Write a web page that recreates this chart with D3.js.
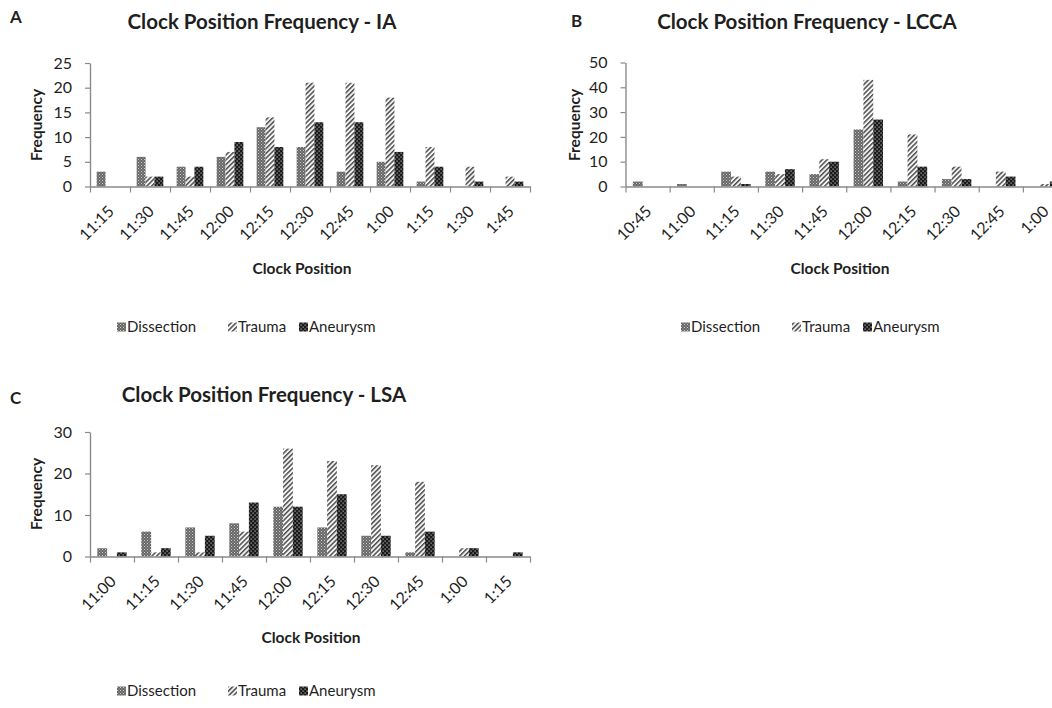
<!DOCTYPE html>
<html><head><meta charset="utf-8">
<script src="https://cdn.jsdelivr.net/npm/d3@7"></script>
<style>
body{margin:0;background:#fff}
svg{display:block}
text{font-family:Lato,"Noto Sans",sans-serif;fill:#1f1f1f}
</style></head>
<body><svg id="chart" width="1052" height="708"></svg>
<script>
// ---------- data ----------
const seriesNames = ["Dissection", "Trauma", "Aneurysm"];

const catsIA = ["11:15","11:30","11:45","12:00","12:15","12:30","12:45","1:00","1:15","1:30","1:45"];
const dissectionIA = [3, 6, 4, 6, 12, 8, 3, 5, 1, 0, 0];
const traumaIA     = [0, 2, 2, 7, 14, 21, 21, 18, 8, 4, 2];
const aneurysmIA   = [0, 2, 4, 9, 8, 13, 13, 7, 4, 1, 1];
const ticksIA = [0, 5, 10, 15, 20, 25];

const catsLCCA = ["10:45","11:00","11:15","11:30","11:45","12:00","12:15","12:30","12:45","1:00"];
const dissectionLCCA = [2, 1, 6, 6, 5, 23, 2, 3, 0, 0];
const traumaLCCA     = [0, 0, 4, 5, 11, 43, 21, 8, 6, 1];
const aneurysmLCCA   = [0, 0, 1, 7, 10, 27, 8, 3, 4, 2];
const ticksLCCA = [0, 10, 20, 30, 40, 50];

const catsLSA = ["11:00","11:15","11:30","11:45","12:00","12:15","12:30","12:45","1:00","1:15"];
const dissectionLSA = [2, 6, 7, 8, 12, 7, 5, 1, 0, 0];
const traumaLSA     = [0, 1, 1, 6, 26, 23, 22, 18, 2, 0];
const aneurysmLSA   = [1, 2, 5, 13, 12, 15, 5, 6, 2, 1];
const ticksLSA = [0, 10, 20, 30];

// ---------- layout ----------
const panels = [
  {letter:"A", title:"Clock Position Frequency - IA", cats:catsIA,
   series:[dissectionIA, traumaIA, aneurysmIA], ticks:ticksIA,
   x0:90, x1:530, yBase:186.5, yTop:63,
   letterX:10, letterY:23, titleX:262, titleY:29, freqX:42, freqY:125,
   cpX:302, cpY:274, legX:117, legY:327},
  {letter:"B", title:"Clock Position Frequency - LCCA", cats:catsLCCA,
   series:[dissectionLCCA, traumaLCCA, aneurysmLCCA], ticks:ticksLCCA,
   x0:625.5, x1:1067, yBase:186.5, yTop:62.5,
   letterX:571, letterY:27, titleX:807, titleY:29, freqX:580, freqY:125,
   cpX:840, cpY:274, legX:681, legY:327},
  {letter:"C", title:"Clock Position Frequency - LSA", cats:catsLSA,
   series:[dissectionLSA, traumaLSA, aneurysmLSA], ticks:ticksLSA,
   x0:90, x1:530, yBase:556.5, yTop:432,
   letterX:10, letterY:404, titleX:264, titleY:402, freqX:42, freqY:494,
   cpX:311, cpY:643, legX:117, legY:691}
];
const legendOffsets = [0, 111, 182];
const axisColor = "#8a8a8a";

const svg = d3.select("#chart");
const defs = svg.append("defs");

// Dissection: grey fine checker
const pD = defs.append("pattern").attr("id","patD").attr("patternUnits","userSpaceOnUse")
  .attr("width",3).attr("height",3);
pD.append("rect").attr("width",3).attr("height",3).attr("fill","#666666");
pD.append("rect").attr("x",0).attr("y",0).attr("width",1).attr("height",1).attr("fill","#d0d0d0");
pD.append("rect").attr("x",1.5).attr("y",1.5).attr("width",1).attr("height",1).attr("fill","#b4b4b4");

// Trauma: wide upward diagonal
const pT = defs.append("pattern").attr("id","patT").attr("patternUnits","userSpaceOnUse")
  .attr("width",3.4).attr("height",6).attr("patternTransform","rotate(45)");
pT.append("rect").attr("width",3.4).attr("height",6).attr("fill","#f4f4f4");
pT.append("rect").attr("width",1.5).attr("height",6).attr("fill","#4d4d4d");

// Aneurysm: dark with light dots
const pA = defs.append("pattern").attr("id","patA").attr("patternUnits","userSpaceOnUse")
  .attr("width",4).attr("height",4);
pA.append("rect").attr("width",4).attr("height",4).attr("fill","#1a1a1a");
pA.append("rect").attr("x",0.5).attr("y",0.5).attr("width",1.2).attr("height",1.2).attr("fill","#b8b8b8");
pA.append("rect").attr("x",2.5).attr("y",2.5).attr("width",1.2).attr("height",1.2).attr("fill","#b8b8b8");

const fills = ["url(#patD)", "url(#patT)", "url(#patA)"];

panels.forEach(p => {
  const g = svg.append("g");
  const x = d3.scaleBand().domain(p.cats).range([p.x0, p.x1]).paddingInner(0).paddingOuter(0);
  const xs = d3.scaleBand().domain(seriesNames).range([0, x.bandwidth()]).paddingInner(0).paddingOuter(0.75);
  const y = d3.scaleLinear().domain([0, d3.max(p.ticks)]).range([p.yBase, p.yTop]);

  // bars
  seriesNames.forEach((s, si) => {
    g.append("g").selectAll("rect").data(p.cats.map((c, i) => ({c, v: p.series[si][i]})))
      .join("rect")
      .attr("x", d => x(d.c) + xs(s))
      .attr("width", xs.bandwidth())
      .attr("y", d => y(d.v))
      .attr("height", d => y(0) - y(d.v))
      .attr("fill", fills[si]);
  });

  // y axis
  const ya = g.append("g").attr("transform", `translate(${p.x0},0)`)
    .call(d3.axisLeft(y).tickValues(p.ticks).tickSize(5).tickSizeOuter(0).tickPadding(13));
  ya.select(".domain").attr("stroke", axisColor).attr("stroke-width", 1.4);
  ya.selectAll(".tick line").attr("stroke", axisColor).attr("stroke-width", 1.2);
  ya.selectAll(".tick text").attr("font-size", 16).attr("font-family", "Lato").attr("fill", "#1f1f1f");

  // x axis with boundary ticks
  const xl = d3.scaleLinear().domain([0, p.cats.length]).range([p.x0, p.x1]);
  const xa = g.append("g").attr("transform", `translate(0,${p.yBase})`)
    .call(d3.axisBottom(xl).tickValues(d3.range(p.cats.length + 1)).tickFormat("").tickSize(6).tickSizeOuter(0));
  xa.select(".domain").attr("stroke", axisColor).attr("stroke-width", 1.4);
  xa.selectAll(".tick line").attr("stroke", axisColor).attr("stroke-width", 1.2);

  // rotated category labels
  g.append("g").selectAll("text").data(p.cats).join("text")
    .attr("transform", d => `translate(${x(d) + x.bandwidth()/2 + 1},${p.yBase + 22}) rotate(-45)`)
    .attr("text-anchor", "end").attr("dy", "0.35em")
    .attr("font-size", 16).text(d => d);

  // titles
  g.append("text").attr("x", p.letterX).attr("y", p.letterY).attr("font-size", 17)
    .attr("font-weight", "bold").text(p.letter);
  g.append("text").attr("x", p.titleX).attr("y", p.titleY).attr("font-size", 20.5)
    .attr("font-weight", "bold").attr("text-anchor", "middle").text(p.title);
  g.append("text").attr("transform", `translate(${p.freqX},${p.freqY}) rotate(-90)`)
    .attr("font-size", 15.5).attr("font-weight", "bold").attr("text-anchor", "middle").text("Frequency");
  g.append("text").attr("x", p.cpX).attr("y", p.cpY).attr("font-size", 15.5)
    .attr("font-weight", "bold").attr("text-anchor", "middle").text("Clock Position");

  // legend
  const lg = g.append("g");
  seriesNames.forEach((s, si) => {
    const lx = p.legX + legendOffsets[si];
    lg.append("rect").attr("x", lx).attr("y", p.legY - 4.5).attr("width", 9).attr("height", 9)
      .attr("fill", fills[si]);
    lg.append("text").attr("x", lx + 10).attr("y", p.legY).attr("dy", "0.35em")
      .attr("font-size", 15).text(s);
  });
});
</script>
</body></html>
